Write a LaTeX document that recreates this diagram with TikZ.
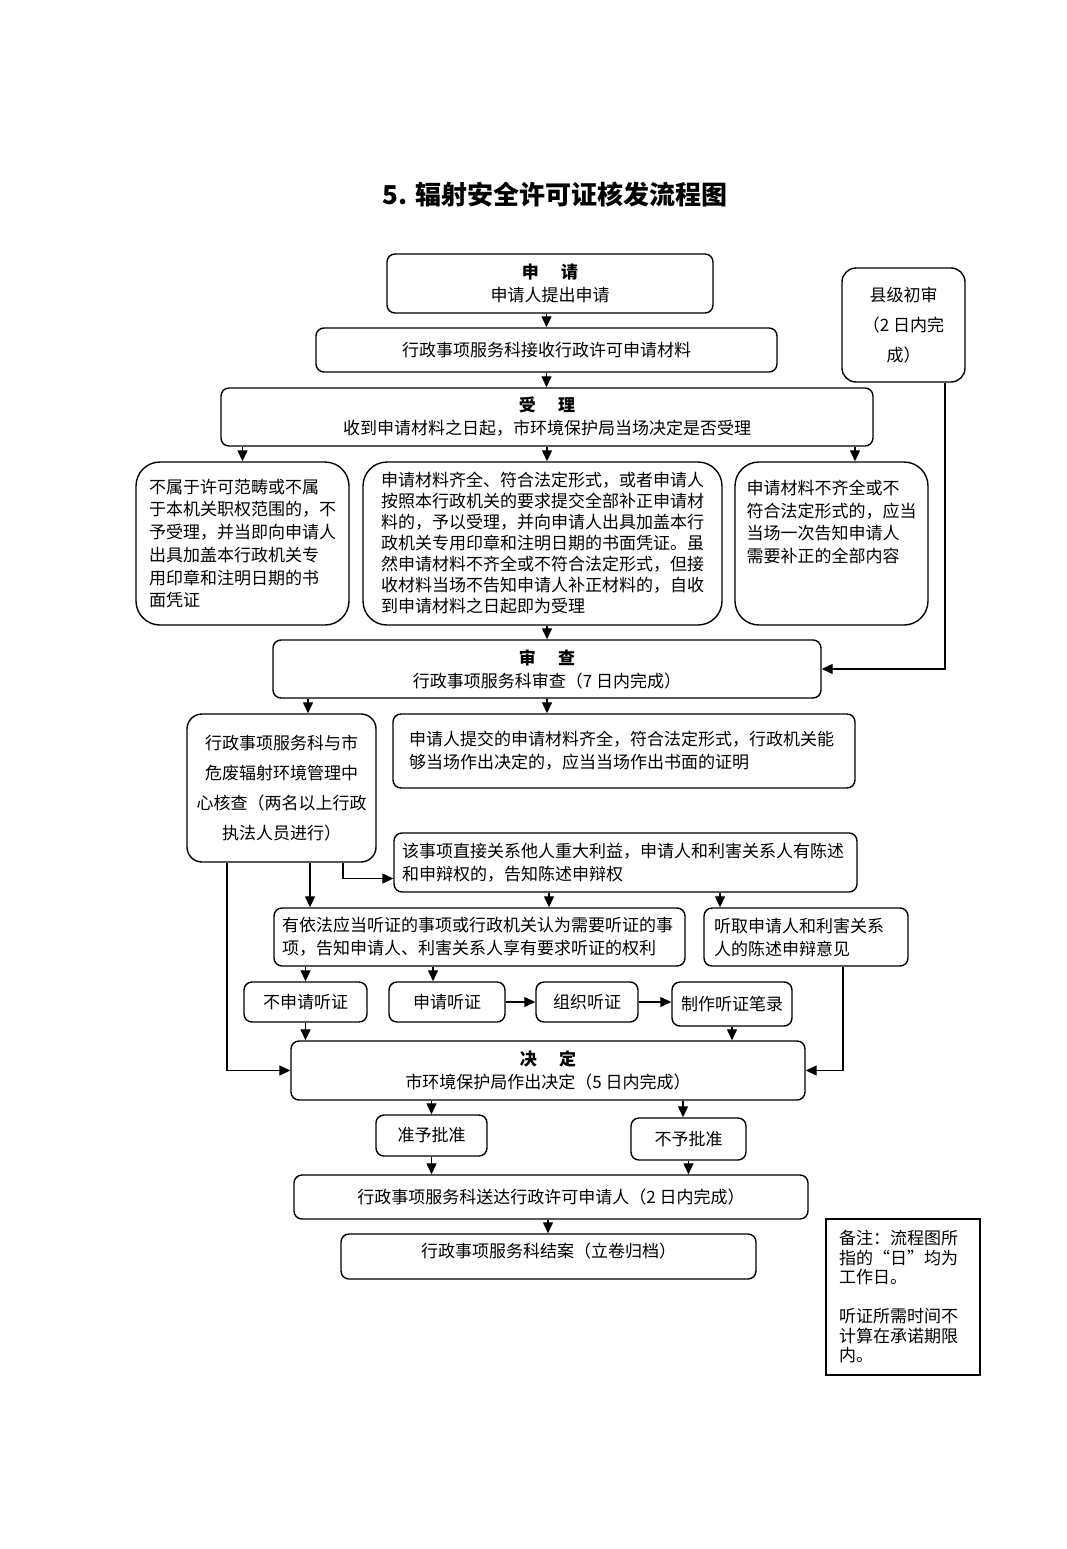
\documentclass[tikz,border=0pt]{standalone}
\usepackage{fontspec}
\setmainfont{Noto Sans CJK SC}
\usepackage{tikz}
\usetikzlibrary{arrows.meta,calc,positioning}

\begin{document}
\begin{tikzpicture}[
  x=1pt,y=-1pt,
  font=\fontsize{17}{23}\selectfont,
  box/.style={draw,line width=1.4pt,rounded corners=8pt,inner sep=0pt,align=center},
  bigbox/.style={box,rounded corners=24pt},
  flow/.style={line width=1.3pt,-{Triangle[length=11pt,width=10pt]}}
]
  \useasboundingbox (0,0) rectangle (1067,1549);

  % Title
  \node[font=\fontsize{26}{30}\selectfont\bfseries] (title) at (555,195)
    {5. 辐射安全许可证核发流程图};

  % Application and acceptance
  \node[box,minimum width=326pt,minimum height=59pt] (shenqing) at (550,283.5)
    {{\bfseries 申\hspace{1.3em}请}\\申请人提出申请};
  \node[box,minimum width=461pt,minimum height=44pt] (jieshou) at (546.5,350)
    {行政事项服务科接收行政许可申请材料};
  \node[box,rounded corners=14pt,minimum width=123pt,minimum height=114pt,
    font=\fontsize{17}{30}\selectfont] (xianji) at (903.5,325)
    {县级初审\\（2 日内完\\成）};
  \node[box,minimum width=652pt,minimum height=58pt] (shouli) at (547,417)
    {{\bfseries 受\hspace{1.3em}理}\\收到申请材料之日起，市环境保护局当场决定是否受理};

  % Three outcomes of acceptance
  \node[bigbox,minimum width=213pt,minimum height=163pt,align=left,
    font=\fontsize{17}{22.7}\selectfont] (buyu) at (242.5,543.5)
    {不属于许可范畴或不属\\于本机关职权范围的，不\\予受理，并当即向申请人\\出具加盖本行政机关专\\用印章和注明日期的书\\面凭证};
  \node[bigbox,minimum width=359pt,minimum height=163pt,align=left,
    font=\fontsize{17}{21}\selectfont] (yuyu) at (542.5,543.5)
    {申请材料齐全、符合法定形式，或者申请人\\按照本行政机关的要求提交全部补正申请材\\料的，予以受理，并向申请人出具加盖本行\\政机关专用印章和注明日期的书面凭证。虽\\然申请材料不齐全或不符合法定形式，但接\\收材料当场不告知申请人补正材料的，自收\\到申请材料之日起即为受理};
  \node[bigbox,minimum width=193pt,minimum height=163pt,align=left,
    font=\fontsize{17}{22.7}\selectfont] (buqi) at (831.5,543.5)
    {申请材料不齐全或不\\符合法定形式的，应当\\当场一次告知申请人\\需要补正的全部内容\\[22pt]\mbox{}};

  % Review
  \node[box,minimum width=548pt,minimum height=58pt] (shencha) at (547,669)
    {{\bfseries 审\hspace{1.3em}查}\\行政事项服务科审查（7 日内完成）};
  \node[box,rounded corners=15pt,minimum width=189pt,minimum height=148pt,
    font=\fontsize{17}{30}\selectfont] (hecha) at (281.5,788)
    {行政事项服务科与市\\危废辐射环境管理中\\心核查（两名以上行政\\执法人员进行）};
  \node[box,minimum width=462pt,minimum height=74pt,text width=430pt,align=left] (dangchang) at (624,751)
    {申请人提交的申请材料齐全，符合法定形式，行政机关能\\够当场作出决定的，应当当场作出书面的证明};
  \node[box,minimum width=463pt,minimum height=59pt,text width=447pt,align=left] (chenshu) at (625.5,862.5)
    {该事项直接关系他人重大利益，申请人和利害关系人有陈述\\和申辩权的，告知陈述申辩权};

  % Hearing
  \node[box,minimum width=411pt,minimum height=58pt,text width=395pt,align=left] (tingzheng) at (479.5,937)
    {有依法应当听证的事项或行政机关认为需要听证的事\\项，告知申请人、利害关系人享有要求听证的权利};
  \node[box,minimum width=204pt,minimum height=58pt,text width=184pt,align=left] (tingqu) at (806,937)
    {听取申请人和利害关系\\人的陈述申辩意见};
  \node[box,minimum width=123pt,minimum height=40pt] (bushen) at (305.5,1002) {不申请听证};
  \node[box,minimum width=116pt,minimum height=40pt] (shenting) at (447,1002) {申请听证};
  \node[box,minimum width=102pt,minimum height=40pt] (zuzhi) at (587,1002) {组织听证};
  \node[box,minimum width=120pt,minimum height=44pt] (zhizuo) at (732,1004) {制作听证笔录};

  % Decision
  \node[box,minimum width=514pt,minimum height=59pt] (jueding) at (548,1070.5)
    {{\bfseries 决\hspace{1.3em}定}\\市环境保护局作出决定（5 日内完成）};
  \node[box,minimum width=111pt,minimum height=41pt] (zhunyu) at (431.5,1135.5) {准予批准};
  \node[box,minimum width=115pt,minimum height=42pt] (buyu2) at (688.5,1139) {不予批准};
  \node[box,minimum width=514pt,minimum height=44pt] (songda) at (551,1197)
    {行政事项服务科送达行政许可申请人（2 日内完成）};
  \node[box,minimum width=415pt,minimum height=45pt] (jiean) at (548.5,1256.5)
    {行政事项服务科结案（立卷归档）\\[-10pt]\mbox{}};

  % Note
  \node[draw,line width=1.4pt,minimum width=154pt,minimum height=156pt,inner sep=0pt,
    text width=128pt,align=left,font=\fontsize{17}{19.5}\selectfont] (note) at (903,1297)
    {备注：流程图所\\指的“日”均为\\工作日。\\[19.5pt]听证所需时间不\\计算在承诺期限\\内。};

  % Connectors
  \draw[flow] (jieshou.north |- shenqing.south) -- (jieshou.north);
  \draw[flow] (jieshou.south) -- (jieshou.south |- shouli.north);
  \draw[flow] (buyu.north |- shouli.south) -- (buyu.north);
  \draw[flow] (shouli.south) -- (shouli.south |- yuyu.north);
  \draw[flow] (855,0 |- shouli.south) -- (855,0 |- buqi.north);
  \draw[flow] (shencha.north |- yuyu.south) -- (shencha.north);
  \draw[flow] (945,0 |- xianji.south) |- (shencha.east);
  \draw[flow] (308,0 |- shencha.south) -- (308,0 |- hecha.north);
  \draw[flow] (shencha.south) -- (shencha.south |- dangchang.north);
  \draw[flow] (310,0 |- hecha.south) -- (310,0 |- tingzheng.north);
  \draw[flow] (343,0 |- hecha.south) |- ([yshift=-16pt]chenshu.west);
  \draw[flow] (227,0 |- hecha.south) |- (jueding.west);
  \draw[flow] (549,0 |- chenshu.south) -- (549,0 |- tingzheng.north);
  \draw[flow] (720,0 |- chenshu.south) -- (720,0 |- tingqu.north);
  \draw[flow] (bushen.north |- tingzheng.south) -- (bushen.north);
  \draw[flow] (433,0 |- tingzheng.south) -- (433,0 |- shenting.north);
  \draw[flow] (shenting.east) -- (zuzhi.west);
  \draw[flow] (zuzhi.east) -- (zuzhi.east -| zhizuo.west);
  \draw[flow] (bushen.south) -- (bushen.south |- jueding.north);
  \draw[flow] (zhizuo.south) -- (zhizuo.south |- jueding.north);
  \draw[flow] (843,0 |- tingqu.south) |- (jueding.east);
  \draw[flow] (zhunyu.north |- jueding.south) -- (zhunyu.north);
  \draw[flow] (683,0 |- jueding.south) -- (683,0 |- buyu2.north);
  \draw[flow] (zhunyu.south) -- (zhunyu.south |- songda.north);
  \draw[flow] (buyu2.south) -- (buyu2.south |- songda.north);
  \draw[flow] (548,0 |- songda.south) -- (548,0 |- jiean.north);
\end{tikzpicture}
\end{document}
